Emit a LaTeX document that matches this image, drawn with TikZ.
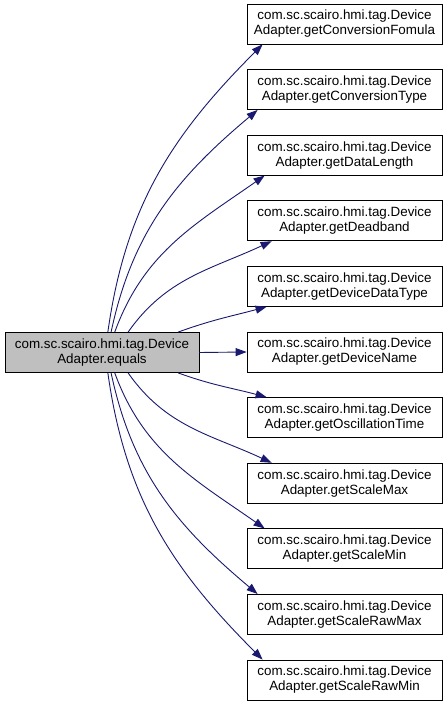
\documentclass[tikz,border=0pt]{standalone}
\usepackage{fontspec}
\setmainfont{Liberation Sans}
\usetikzlibrary{arrows.meta, calc}
\definecolor{edgeblue}{HTML}{191970}
\definecolor{callergray}{HTML}{BFBFBF}

\begin{document}
\begin{tikzpicture}[x=1pt, y=1pt,
    fn/.style={rectangle, draw, thick, fill=white, minimum width=195pt, minimum height=40pt,
      inner sep=0pt, align=center, font=\fontsize{13.4}{15}\selectfont},
    call/.style={-{Triangle[length=11pt, width=8pt]}, draw=edgeblue, line width=0.9pt}
]
    \useasboundingbox (0,0) rectangle (447,705);
    \node[fn, fill=callergray, minimum width=194pt] (equals) at (102,352.5) {com.sc.scairo.hmi.tag.Device\\Adapter.equals};
    % callees, top to bottom
    \foreach \fname [count=\i] in {getConversionFomula, getConversionType, getDataLength, getDeadband,
        getDeviceDataType, getDeviceName, getOscillationTime, getScaleMax, getScaleMin,
        getScaleRawMax, getScaleRawMin}
        \node[fn] (f\i) at (344.5, {681-65.6*(\i-1)}) {com.sc.scairo.hmi.tag.Device\\Adapter.\fname};
    % upper and lower fans of calls
    \foreach \i/\a/\o/\n/\d in {1/74/82/225/16, 2/66/78/220/11, 3/58/70/215/18, 4/38/55/205/25, 5/15/20/195/20} {
        \pgfmathtruncatemacro\j{12-\i}
        \pgfmathtruncatemacro\b{360-\a}
        \pgfmathtruncatemacro\p{360-\o}
        \pgfmathtruncatemacro\q{360-\n}
        \draw[call] (equals.\a) to[out=\o, in=\n] ($(f\i.south west)+(\d,0)$);
        \draw[call] (equals.\b) to[out=\p, in=\q] ($(f\j.north west)+(\d,0)$);
    }
    \draw[call] (equals.east) -- (f6.west);
\end{tikzpicture}
\end{document}
